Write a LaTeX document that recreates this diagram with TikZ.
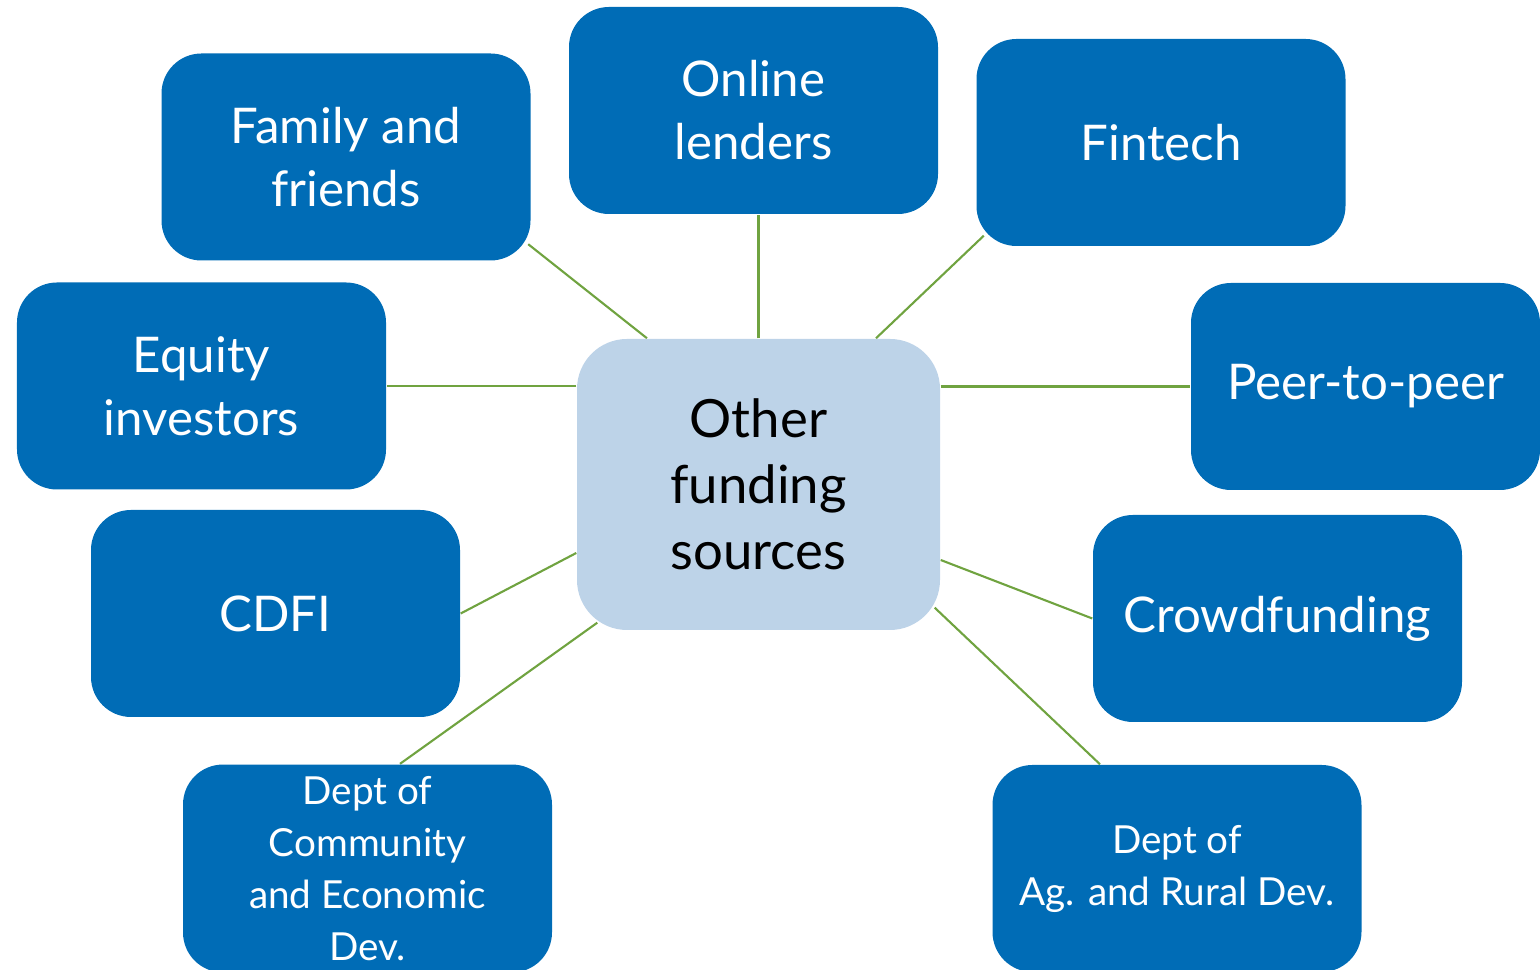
\documentclass[tikz,border=0pt]{standalone}
\usepackage{fontspec}
\setmainfont{Lato}
\usetikzlibrary{backgrounds}

\definecolor{srcblue}{RGB}{0,108,182}
\definecolor{hubblue}{RGB}{189,211,232}
\definecolor{linkgreen}{RGB}{112,163,64}

\begin{document}
\begin{tikzpicture}[source/.style={rectangle,rounded corners=0.4cm,fill=srcblue,
                      text=white,align=center,minimum width=3.69cm,minimum height=2.07cm,
                      font=\fontsize{14}{17.9}\selectfont},
                    link/.style={draw=linkgreen,line width=0.6pt}]

 \useasboundingbox (0,0) rectangle (15.4,9.7);
 \clip (0,0) rectangle (15.4,9.7);

 % centre
 \node[rectangle,rounded corners=0.5cm,fill=hubblue,align=center,
       minimum width=3.63cm,minimum height=2.91cm,
       font=\fontsize{15}{18.8}\selectfont] (hub) at (7.585,4.855) {Other\\funding\\sources};

 % sources, clockwise from top left
  \node[source] (family)  at (3.46,8.13)   {Family and\\friends};
  \node[source] (online)  at (7.535,8.595) {Online\\lenders};
  \node[source] (fintech) at (11.61,8.275) {Fintech};
  \node[source,minimum width=3.49cm] (peer) at (13.655,5.835) {Peer-to-peer};
  \node[source] (crowd)   at (12.775,3.515) {Crowdfunding};
  \node[source,font=\fontsize{11}{14.8}\selectfont] (agdev) at (11.77,1.015)
        {Dept of\\Ag. and Rural Dev.};
  \node[source,font=\fontsize{11}{14.8}\selectfont] (commdev) at (3.675,1.015)
        {Dept of\\Community\\and Economic\\Dev.};
  \node[source] (cdfi)    at (2.755,3.565) {CDFI};
  \node[source] (equity)  at (2.015,5.84)  {Equity\\investors};

 \begin{pgfonlayer}{background}
  \path[link] ([xshift=-1.115cm]hub.north) edge ([shift={(-0.03,0.17)}]family.south east)
              (hub.north) edge (online.south -| hub.north)
              ([xshift=1.175cm]hub.north) edge ([shift={(0.08,0.11)}]fintech.south west)
              (peer.west -| hub.east) edge (peer.west)
              ([yshift=-0.755cm]hub.east) edge (crowd.west)
              ([shift={(-0.06,0.23)}]hub.south east) edge ([xshift=-0.77cm]agdev.north)
              ([shift={(0.21,0.08)}]hub.south west) edge ([xshift=0.325cm]commdev.north)
              ([yshift=-0.685cm]hub.west) edge (cdfi.east)
              (equity.east -| hub.west) edge (equity.east);
 \end{pgfonlayer}

\end{tikzpicture}
\end{document}
